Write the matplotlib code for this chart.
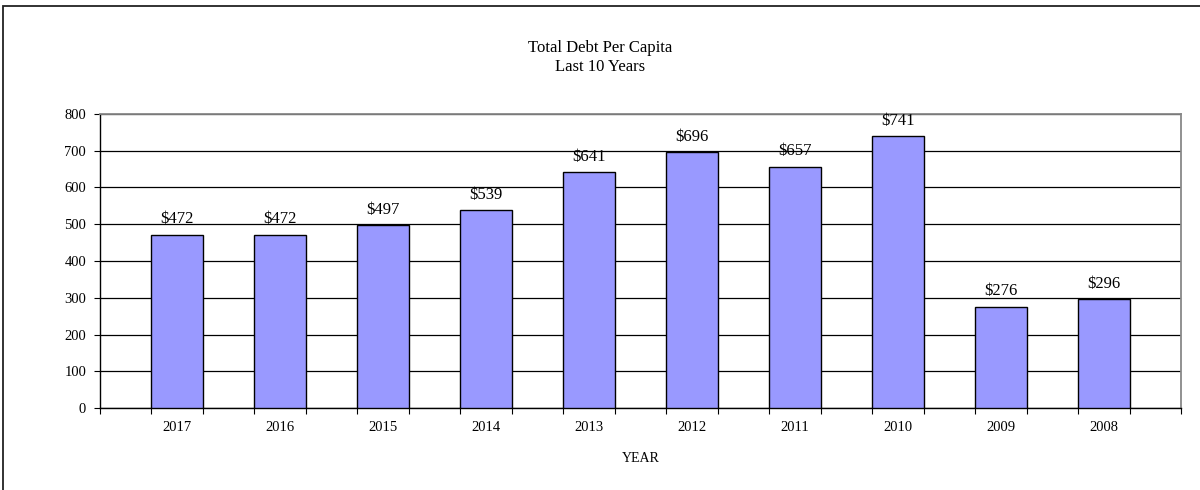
import matplotlib
matplotlib.use("Agg")
import matplotlib.pyplot as plt
from matplotlib.patches import Rectangle
import numpy as np

years = ["2017", "2016", "2015", "2014", "2013", "2012", "2011", "2010", "2009", "2008"]
debt_per_capita = [472, 472, 497, 539, 641, 696, 657, 741, 276, 296]
value_labels = ["$472", "$472", "$497", "$539", "$641", "$696", "$657", "$741", "$276", "$296"]
y_ticks = [0, 100, 200, 300, 400, 500, 600, 700, 800]

plt.rcParams['font.family'] = ['Liberation Serif', 'DejaVu Serif']

W, H = 1200, 490
fig = plt.figure(figsize=(W / 100, H / 100), dpi=100)

# outer frame (only top and left visible)
fig.patches.append(Rectangle((3 / W, -0.05), 1.1, (1 - 6 / H) + 0.05,
                             transform=fig.transFigure, fill=False,
                             edgecolor='#222222', linewidth=1.3, clip_on=False))

ax = fig.add_axes([100 / W, 1 - 408 / H, (1181 - 100) / W, (408 - 114) / H])

x = np.arange(len(years))
ax.bar(x, debt_per_capita, width=0.5, color='#9999FF', edgecolor='black',
       linewidth=1.0, zorder=3)

for xi, v, lab in zip(x, debt_per_capita, value_labels):
    ax.annotate(lab, (xi, v), xytext=(0, 8), textcoords='offset points',
                ha='center', va='baseline', fontsize=12)

ax.set_xlim(-0.75, len(years) - 0.25)
ax.set_ylim(0, 800)
ax.set_yticks(y_ticks)
ax.set_yticklabels([str(t) for t in y_ticks], fontsize=10.5)
ax.tick_params(axis='y', length=4, width=0.8, pad=6, direction='out')

ax.set_xticks(x)
ax.set_xticklabels(years, fontsize=10.5)
ax.tick_params(axis='x', which='major', length=0, pad=9)
ax.set_xticks(np.arange(-0.75, len(years) - 0.25 + 0.01, 0.5), minor=True)
ax.tick_params(axis='x', which='minor', length=4, width=0.8, direction='out')

ax.yaxis.grid(True, color='black', linewidth=0.9, zorder=0)
ax.set_axisbelow(True)

for s in ['left', 'bottom']:
    ax.spines[s].set_color('black')
    ax.spines[s].set_linewidth(1.0)
for s in ['right', 'top']:
    ax.spines[s].set_color('#888888')
    ax.spines[s].set_linewidth(1.3)

ax.set_xlabel('YEAR', fontsize=10, labelpad=13)

fig.text(0.5, 1 - 48 / H, 'Total Debt Per Capita', ha='center', va='center', fontsize=12)
fig.text(0.5, 1 - 67 / H, 'Last 10 Years', ha='center', va='center', fontsize=12)

fig.savefig('out.png', dpi=100)
